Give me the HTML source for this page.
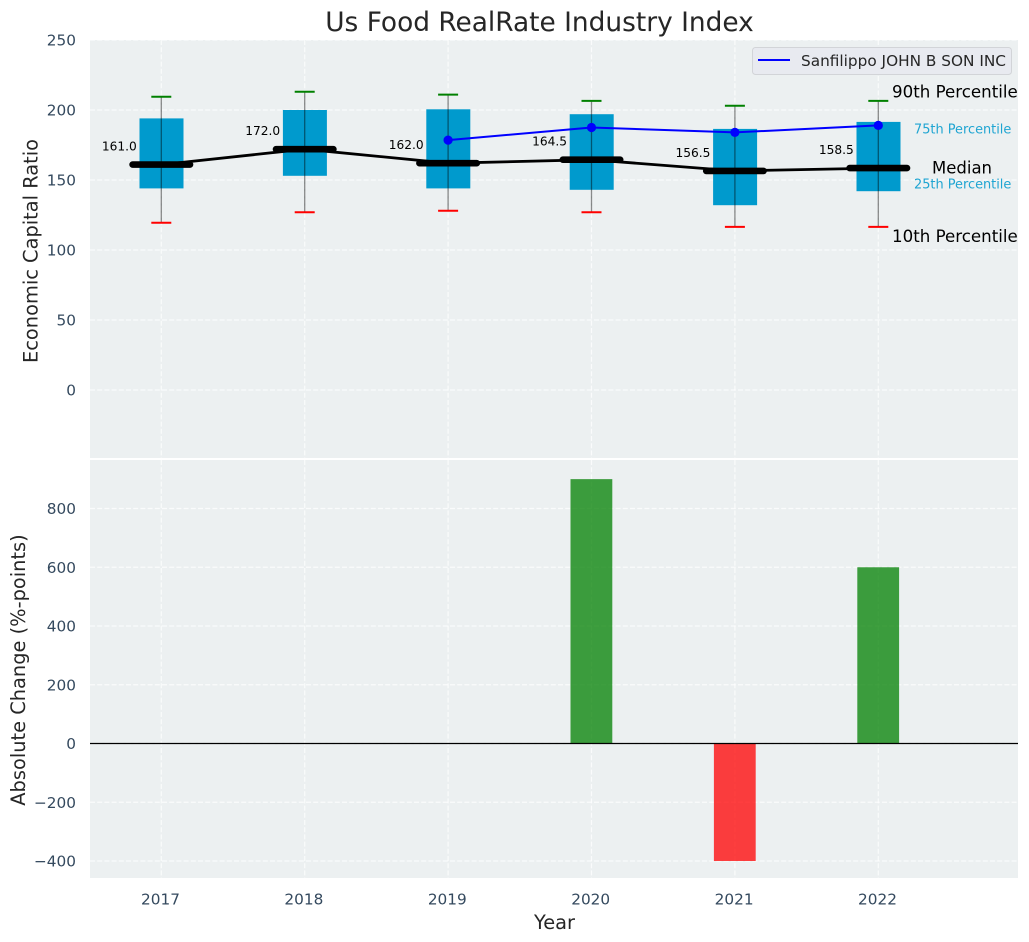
<!DOCTYPE html>
<html>
<head>
<meta charset="utf-8">
<title>Us Food RealRate Industry Index</title>
<style>
html,body{margin:0;padding:0;background:#fff;}
svg{display:block;font-family:"DejaVu Sans","Liberation Sans",sans-serif;}
</style>
</head>
<body>
<svg id="chart" xmlns="http://www.w3.org/2000/svg" width="1029" height="942" viewBox="0 0 1029 942">
  <rect x="90" y="40" width="928" height="418" fill="#ecf0f1"/>
  <rect x="90" y="460" width="928" height="418" fill="#ecf0f1"/>
  <g id="grid"></g>
  <g id="marks"></g>
  <g id="labels"></g>
  <text x="539.5" y="31" text-anchor="middle" font-size="26.4" fill="#262626">Us Food RealRate Industry Index</text>
  <text transform="translate(37.5,251) rotate(-90)" text-anchor="middle" font-size="19.4" fill="#262626">Economic Capital Ratio</text>
  <text transform="translate(25,670) rotate(-90)" text-anchor="middle" font-size="19.4" fill="#262626">Absolute Change (%-points)</text>
  <text x="554.5" y="929" text-anchor="middle" font-size="19.4" fill="#262626">Year</text>
  <g>
    <rect x="752.5" y="47.5" width="259" height="27" rx="3" fill="#e8eaf0" stroke="#d2d4d8" stroke-width="1"/>
    <line x1="758" y1="60" x2="790" y2="60" stroke="#0000ff" stroke-width="2"/>
    <text x="801" y="66" font-size="15.3" fill="#262626">Sanfilippo JOHN B SON INC</text>
  </g>
</svg>
<script>
const years = [2017, 2018, 2019, 2020, 2021, 2022];
const p10 = [119.5, 127, 128, 127, 116.5, 116.5];
const p25 = [144, 153, 144, 143, 132, 142];
const medians = [161, 172, 162, 164.5, 156.5, 158.5];
const p75 = [194, 200, 200.5, 197, 186.5, 191.5];
const p90 = [209.5, 213, 211, 206.5, 203, 206.5];
const companyYears = [2019, 2020, 2021, 2022];
const companyValues = [178.5, 187.5, 184, 189];
const changeYears = [2020, 2021, 2022];
const changeValues = [900, -400, 600];
const topTicks = [0, 50, 100, 150, 200, 250];
const bottomTicks = [-400, -200, 0, 200, 400, 600, 800];

const NS = 'http://www.w3.org/2000/svg';
const gridG = document.getElementById('grid');
const marksG = document.getElementById('marks');
const labelsG = document.getElementById('labels');

function xScale(year) { return 161.3 + (year - 2017) * 143.4; }
function yTop(v) { return 390 - v * 1.4; }
function yBottom(v) { return 743.5 - v * 0.29375; }

function svgEl(parent, tag, attrs, content) {
  const node = document.createElementNS(NS, tag);
  for (const k in attrs) node.setAttribute(k, attrs[k]);
  if (content !== undefined) node.textContent = content;
  parent.appendChild(node);
  return node;
}
const gridStyle = {stroke: '#ffffff', 'stroke-width': 1.2, 'stroke-dasharray': '5 2.2', 'stroke-opacity': 0.75};
const tickColor = '#34495e';

// grid + ticks
years.forEach(function (yr) {
  const x = xScale(yr);
  let el = svgEl(gridG, 'line', Object.assign({x1: x, x2: x, y1: 40, y2: 458}, gridStyle));
  
  
  el = svgEl(gridG, 'line', Object.assign({x1: x, x2: x, y1: 460, y2: 878}, gridStyle));
  
  
  el = svgEl(labelsG, 'text', {x: x - 0.8, y: 904.5, 'text-anchor': 'middle', 'font-size': 15.3, fill: tickColor}, String(yr));
  
  
});
topTicks.forEach(function (t) {
  const y = yTop(t);
  let el = svgEl(gridG, 'line', Object.assign({x1: 90, x2: 1018, y1: y, y2: y}, gridStyle));
  
  
  el = svgEl(labelsG, 'text', {x: 76, y: y + 5.5, 'text-anchor': 'end', 'font-size': 15.3, fill: tickColor}, String(t));
  
  
});
bottomTicks.forEach(function (t) {
  const y = yBottom(t);
  let el = svgEl(gridG, 'line', Object.assign({x1: 90, x2: 1018, y1: y, y2: y}, gridStyle));
  
  
  el = svgEl(labelsG, 'text', {x: 76, y: y + 5.5, 'text-anchor': 'end', 'font-size': 15.3, fill: tickColor}, String(t).replace('-', '\u2212'));
  
  
});

// boxes
years.forEach(function (yr, i) {
  const x = xScale(yr);
  const el = svgEl(marksG, 'rect', {x: x - 21.8, width: 44, y: yTop(p75[i]), height: yTop(p25[i]) - yTop(p75[i]), fill: '#009acd'});
  
  
});
// whiskers
years.forEach(function (yr, i) {
  const x = xScale(yr);
  let el = svgEl(marksG, 'line', {x1: x, x2: x, y1: yTop(p90[i]), y2: yTop(p10[i]), stroke: '#000', 'stroke-opacity': 0.45, 'stroke-width': 1.3});
  
  
  el = svgEl(marksG, 'line', {x1: x - 10, x2: x + 10, y1: yTop(p90[i]), y2: yTop(p90[i]), stroke: '#008000', 'stroke-width': 2});
  
  
  el = svgEl(marksG, 'line', {x1: x - 10, x2: x + 10, y1: yTop(p10[i]), y2: yTop(p10[i]), stroke: '#ff0000', 'stroke-width': 2});
  
  
});
// median trend
const medianLine = svgEl(marksG, 'polyline', {
  points: years.map(function (yr, i) { return xScale(yr) + ',' + yTop(medians[i]); }).join(' '),
  fill: 'none', stroke: '#000', 'stroke-width': 2.8
});


years.forEach(function (yr, i) {
  const x = xScale(yr), y = yTop(medians[i]);
  let el = svgEl(marksG, 'line', {x1: x - 28.7, x2: x + 28.7, y1: y, y2: y, stroke: '#000', 'stroke-width': 6.6, 'stroke-linecap': 'round'});
  
  
  el = svgEl(labelsG, 'text', {x: x - 24.5, y: y - 14, 'text-anchor': 'end', 'font-size': 12.2, fill: '#000'}, medians[i].toFixed(1));
  
  
});
// company series
const companyLine = svgEl(marksG, 'polyline', {
  points: companyYears.map(function (yr, i) { return xScale(yr) + ',' + yTop(companyValues[i]); }).join(' '),
  fill: 'none', stroke: '#0000ff', 'stroke-width': 2
});


companyYears.forEach(function (yr, i) {
  const el = svgEl(marksG, 'circle', {cx: xScale(yr), cy: yTop(companyValues[i]), r: 4.6, fill: '#0000ff'});
  
  
});
// change bars
changeYears.forEach(function (yr, i) {
  const x = xScale(yr), v = changeValues[i];
  const top = Math.min(yBottom(v), yBottom(0));
  const h = Math.abs(yBottom(v) - yBottom(0));
  const el = svgEl(marksG, 'rect', {x: x - 21, width: 41.8, y: top, height: h, fill: v >= 0 ? '#008000' : '#ff0000', 'fill-opacity': 0.75});
  
  
});
const zeroLine = svgEl(marksG, 'line', {x1: 90, x2: 1018, y1: yBottom(0), y2: yBottom(0), stroke: '#000', 'stroke-width': 1.3});



// percentile annotations anchored on the last year
const last = years.length - 1;
let note = svgEl(labelsG, 'text', {x: 892, y: yTop(p90[last]) - 3.5, 'font-size': 16.67, fill: '#000'}, '90th Percentile');


note = svgEl(labelsG, 'text', {x: 914, y: yTop(p75[last]) + 11.5, 'font-size': 12.9, fill: '#1fa5d2'}, '75th Percentile');


note = svgEl(labelsG, 'text', {x: 932, y: yTop(medians[last]) + 5.5, 'font-size': 16.5, fill: '#000'}, 'Median');


note = svgEl(labelsG, 'text', {x: 914, y: yTop(p25[last]) - 2.5, 'font-size': 12.9, fill: '#1fa5d2'}, '25th Percentile');


note = svgEl(labelsG, 'text', {x: 892, y: yTop(p10[last]) + 15, 'font-size': 16.67, fill: '#000'}, '10th Percentile');


</script>
</body>
</html>
